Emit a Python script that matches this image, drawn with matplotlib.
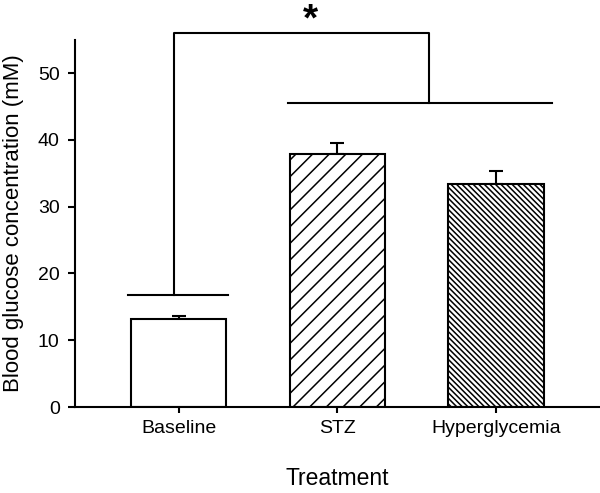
import numpy as np
import matplotlib
matplotlib.use("Agg")
import matplotlib.pyplot as plt

plt.rcParams['font.family'] = ['Liberation Sans', 'DejaVu Sans']
plt.rcParams['hatch.linewidth'] = 1.1

# data
groups = ["Baseline", "STZ", "Hyperglycemia"]
means = [13.2, 37.9, 33.4]
sems = [0.5, 1.6, 1.9]
hatches = ["", "//", "\\\\\\\\\\\\"]

# significance bracket levels (mM)
left_level = 16.7
right_level = 45.5
top_level = 56.0

fig = plt.figure(figsize=(6.0, 4.93), dpi=100)
ax = fig.add_axes([0.125, 0.1744, 0.875, 0.745])

x = np.arange(len(groups))
ax.bar(x, means, width=0.6, color="white", edgecolor="black",
       linewidth=1.5, hatch=hatches, zorder=2)
ax.errorbar(x, means, yerr=[np.zeros(len(sems)), sems], fmt="none",
            ecolor="black", elinewidth=1.5, capsize=5, capthick=1.5, zorder=1)

# bracket
kw = dict(color="black", lw=1.5, clip_on=False)
ax.plot([-0.32, 0.31], [left_level, left_level], **kw)
ax.plot([0.69, 2.35], [right_level, right_level], **kw)
ax.plot([-0.03, -0.03, 1.58, 1.58], [left_level, top_level, top_level, right_level], **kw)
ax.text(0.83, 56.4, "*", ha="center", va="baseline", fontsize=28,
        fontweight="bold", clip_on=False)

ax.set_xlim(-0.652, 2.655)
ax.set_ylim(0, 55)
ax.set_yticks([0, 10, 20, 30, 40, 50])
ax.set_xticks(x)
ax.set_xticklabels(groups)
ax.tick_params(axis="y", length=5, width=1.5, labelsize=14, pad=6)
ax.tick_params(axis="x", length=4, width=1.5, labelsize=14, pad=5)
for s in ["top", "right"]:
    ax.spines[s].set_visible(False)
for s in ["left", "bottom"]:
    ax.spines[s].set_linewidth(1.5)

ax.set_ylabel("Blood glucose concentration (mM)", fontsize=16)
ax.yaxis.set_label_coords(-0.097, 0.5)
ax.set_xlabel("Treatment", fontsize=16.5, labelpad=22)

fig.savefig("out.png", dpi=100)
